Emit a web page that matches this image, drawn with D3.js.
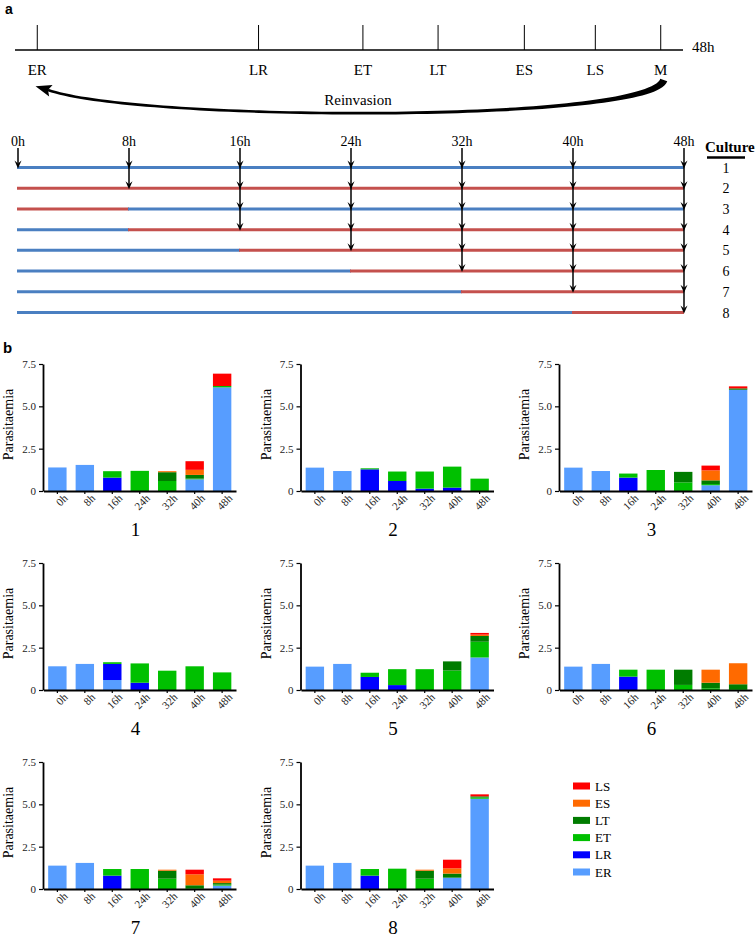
<!DOCTYPE html>
<html><head><meta charset="utf-8">
<script src="https://cdn.jsdelivr.net/npm/d3@7"></script>
<style>body{margin:0;background:#fff} svg{display:block}</style>
</head><body>
<svg id="c" width="755" height="937"></svg>
<script>
// ---------- DATA ----------
const stageNames = ["ER","LR","ET","LT","ES","LS","M"];
const stageHours = [1.6, 17.5, 25.0, 30.4, 36.6, 41.7, 46.4];   // position on the 48h cycle
const times = ["0h","8h","16h","24h","32h","40h","48h"];
const sampleHours = [0, 8, 16, 24, 32, 40, 48];
const cultures = ["1","2","3","4","5","6","7","8"];
const firstSample = [0, 8, 16, 16, 24, 32, 40, 48];
const firstMedium = ["blue","red","red","blue","blue","blue","blue","blue"];
const switchHour  = [48, 48, 8, 8, 16, 24, 32, 40];
const stages = ["ER","LR","ET","LT","ES","LS"];
const yTicks = [0, 2.5, 5, 7.5];

// stage values: one row per culture, one value per sampling time
const ER = [
  [1.39,1.54,0,0,0,0.69,6.12],
  [1.38,1.18,0,0,0,0,0],
  [1.38,1.18,0,0,0,0.34,5.98],
  [1.40,1.54,0.59,0,0,0,0],
  [1.38,1.54,0,0,0,0,1.92],
  [1.38,1.54,0,0,0,0,0],
  [1.38,1.54,0,0,0,0,0.20],
  [1.38,1.54,0,0,0,0.67,5.33]];
const LR = [
  [0,0,0.79,0,0,0,0],
  [0,0,1.28,0.59,0.14,0.20,0],
  [0,0,0.79,0,0,0,0],
  [0,0,0.95,0.43,0,0,0],
  [0,0,0.77,0.29,0,0,0],
  [0,0,0.79,0,0,0,0],
  [0,0,0.79,0,0,0,0],
  [0,0,0.79,0,0,0,0]];
const ET = [
  [0,0,0.38,1.19,0.59,0.04,0.08],
  [0,0,0.06,0.56,1.01,1.24,0.73],
  [0,0,0.24,1.24,0.51,0.07,0],
  [0,0,0.10,1.14,1.14,1.40,1.04],
  [0,0,0.25,0.94,1.23,1.15,0.93],
  [0,0,0.41,1.20,0.30,0.10,0.05],
  [0,0,0.39,1.18,0.61,0.04,0.06],
  [0,0,0.39,1.20,0.61,0,0.08]];
const LT = [
  [0,0,0,0,0.52,0.22,0],
  [0,0,0,0,0,0,0],
  [0,0,0,0,0.62,0.22,0.08],
  [0,0,0,0,0,0,0],
  [0,0,0,0,0,0.54,0.34],
  [0,0,0,0,0.90,0.33,0.29],
  [0,0,0,0,0.47,0.18,0.09],
  [0,0,0,0,0.47,0.24,0.06]];
const ES = [
  [0,0,0,0,0.06,0.30,0],
  [0,0,0,0,0,0,0],
  [0,0,0,0,0,0.59,0],
  [0,0,0,0,0,0,0],
  [0,0,0,0,0,0,0.08],
  [0,0,0,0,0,0.77,1.24],
  [0,0,0,0,0.06,0.65,0.14],
  [0,0,0,0,0.06,0.31,0]];
const LS = [
  [0,0,0,0,0,0.51,0.73],
  [0,0,0,0,0,0,0],
  [0,0,0,0,0,0.28,0.12],
  [0,0,0,0,0,0,0],
  [0,0,0,0,0,0,0.10],
  [0,0,0,0,0,0,0],
  [0,0,0,0,0,0.27,0.14],
  [0,0,0,0,0,0.51,0.12]];

// ---------- STYLE ----------
const serif = "'Liberation Serif','Times New Roman',serif";
const sans = "'Liberation Sans',Arial,sans-serif";
const stageColor = {ER:"#579dff", LR:"#0000ff", ET:"#00c000", LT:"#007c00", ES:"#ff6a00", LS:"#ff0000"};
const mediumColor = {blue:"#4a7fc1", red:"#c4504d"};

const svg = d3.select("#c");

// ---------- PANEL a : top timeline ----------
svg.append("text").attr("x",5).attr("y",14).attr("font-family",sans).attr("font-weight","bold")
  .attr("font-size",14).text("a");

const xCycle = d3.scaleLinear().domain([0,48]).range([15,683]);
const gTop = svg.append("g");
gTop.append("line").attr("x1",xCycle(0)).attr("x2",xCycle(48)).attr("y1",50).attr("y2",50)
  .attr("stroke","#000").attr("stroke-width",1.3);
gTop.selectAll("line.tk").data(stageHours).join("line").attr("class","tk")
  .attr("x1",d=>xCycle(d)).attr("x2",d=>xCycle(d)).attr("y1",25).attr("y2",50)
  .attr("stroke","#000").attr("stroke-width",1);
gTop.selectAll("text.st").data(stageNames).join("text").attr("class","st")
  .attr("x",(d,i)=>xCycle(stageHours[i])).attr("y",75).attr("text-anchor","middle")
  .attr("font-family",serif).attr("font-size",15).text(d=>d);
gTop.append("text").attr("x",692).attr("y",52).attr("font-family",serif).attr("font-size",15).text("48h");

// Reinvasion arrow: tapered cubic curve from M back to ER
(function(){
  const P0=[xCycle(stageHours[6])+3,80], P1=[650,123], P2=[140,122], P3=[48,90];
  const pt=t=>{const u=1-t;return [u*u*u*P0[0]+3*u*u*t*P1[0]+3*u*t*t*P2[0]+t*t*t*P3[0],
                                   u*u*u*P0[1]+3*u*u*t*P1[1]+3*u*t*t*P2[1]+t*t*t*P3[1]];};
  const N=80, up=[], dn=[];
  for(let i=0;i<=N;i++){
    const t=i/N, a=pt(Math.max(0,t-0.005)), b=pt(Math.min(1,t+0.005)), p=pt(t);
    let dx=b[0]-a[0], dy=b[1]-a[1]; const L=Math.hypot(dx,dy); dx/=L; dy/=L;
    const w=(2.6+5*Math.pow(1-t,5))/2;
    up.push([p[0]-dy*w,p[1]+dx*w]); dn.push([p[0]+dy*w,p[1]-dx*w]);
  }
  const poly=up.concat(dn.reverse());
  gTop.append("path").attr("d","M"+poly.map(p=>p.join(",")).join("L")+"Z").attr("fill","#000");
  // arrow head
  const a=pt(0.97); let dx=P3[0]-a[0], dy=P3[1]-a[1]; const L=Math.hypot(dx,dy); dx/=L; dy/=L;
  const tip=[P3[0]+dx*13,P3[1]+dy*13], c1=[P3[0]-dx*3-dy*6,P3[1]-dy*3+dx*6], c2=[P3[0]-dx*3+dy*6,P3[1]-dy*3-dx*6];
  gTop.append("path").attr("d",`M${tip}L${c1}L${P3}L${c2}Z`).attr("fill","#000");
  gTop.append("text").attr("x",358).attr("y",105).attr("text-anchor","middle")
    .attr("font-family",serif).attr("font-size",15).text("Reinvasion");
})();

// ---------- PANEL a : culture schedule ----------
const xT = d3.scaleLinear().domain([0,48]).range([18,684]);
const yC = d3.scalePoint().domain(cultures).range([167.5,312.5]);
const gS = svg.append("g");
cultures.forEach((c,i)=>{
  const segs = [[0,switchHour[i],firstMedium[i]],[switchHour[i],48,firstMedium[i]==="blue"?"red":"blue"]];
  segs.filter(s=>s[1]>s[0]).forEach(s=>{
    gS.append("line").attr("x1",xT(s[0])-1).attr("x2",xT(s[1])).attr("y1",yC(c)).attr("y2",yC(c))
      .attr("stroke",mediumColor[s[2]]).attr("stroke-width",3);
  });
  gS.append("text").attr("x",726).attr("y",yC(c)+5).attr("text-anchor","middle")
    .attr("font-family",serif).attr("font-size",14).text(c);
});
gS.append("text").attr("x",705).attr("y",152).attr("font-family",serif).attr("font-weight","bold")
  .attr("font-size",15).text("Culture");
gS.append("line").attr("x1",707).attr("x2",745).attr("y1",157.5).attr("y2",157.5).attr("stroke","#000").attr("stroke-width",2.5);
sampleHours.forEach((h,j)=>{
  const x=xT(h);
  gS.append("text").attr("x",x).attr("y",146).attr("text-anchor","middle")
    .attr("font-family",serif).attr("font-size",14).text(times[j]);
  const hit=cultures.filter((c,i)=>firstSample[i]<=h);
  const last=hit[hit.length-1];
  gS.append("line").attr("x1",x).attr("x2",x).attr("y1",148).attr("y2",yC(last)-4)
    .attr("stroke","#000").attr("stroke-width",1.5);
  hit.forEach(c=>{
    const yy=yC(c)+1;
    gS.append("path").attr("d",`M${x-3.5},${yy-8}L${x},${yy}L${x+3.5},${yy-8}L${x},${yy-5}Z`).attr("fill","#000");
  });
});

// ---------- PANEL b : stacked bars ----------
svg.append("text").attr("x",3).attr("y",353).attr("font-family",sans).attr("font-weight","bold")
  .attr("font-size",15).text("b");

const colX=[43,300.5,559], rowY=[491,690,889], H=127, W=193;
const stageData={ER,LR,ET,LT,ES,LS};

cultures.forEach((c,ci)=>{
  const x0=colX[ci%3], y0=rowY[Math.floor(ci/3)];
  const g=svg.append("g");
  const x=d3.scaleBand().domain(times).range([x0+0.5,x0+W]).paddingInner(0.33).paddingOuter(0.17);
  const y=d3.scaleLinear().domain([0,7.5]).range([y0,y0-H]);
  const rows=times.map((t,j)=>{const r={time:t}; stages.forEach(s=>r[s]=stageData[s][ci][j]); return r;});
  const series=d3.stack().keys(stages)(rows);
  g.selectAll("g.s").data(series).join("g").attr("class","s").attr("fill",d=>stageColor[d.key])
    .selectAll("rect").data(d=>d).join("rect")
    .attr("x",d=>x(d.data.time)).attr("width",x.bandwidth())
    .attr("y",d=>y(d[1])).attr("height",d=>Math.max(0,y(d[0])-y(d[1])));

  const ya=g.append("g").attr("transform",`translate(${x0},0)`)
    .call(d3.axisLeft(y).tickValues(yTicks).tickSize(4).tickSizeOuter(0).tickPadding(3)
      .tickFormat(d=>d===0?"0":d3.format(".1f")(d)));
  ya.select(".domain").attr("stroke-width",1.8);
  ya.selectAll(".tick line").attr("stroke-width",1.2);
  ya.selectAll("text").attr("font-family",serif).attr("font-size",11).attr("fill","#222");

  const xa=g.append("g").attr("transform",`translate(0,${y0})`)
    .call(d3.axisBottom(x).tickSize(3).tickSizeOuter(0));
  xa.select(".domain").attr("stroke-width",1.8);
  xa.selectAll(".tick line").attr("stroke-width",1.2);
  xa.selectAll("text").attr("font-family",serif).attr("font-size",11).attr("fill","#222")
    .attr("text-anchor","end").attr("dy","0.35em")
    .attr("transform","translate(4,1) rotate(-45)").attr("y",6).attr("x",0);

  g.append("text").attr("transform",`translate(${x0-30},${y0-H/2-3}) rotate(-90)`)
    .attr("text-anchor","middle").attr("font-family",serif).attr("font-size",14).text("Parasitaemia");
  g.append("text").attr("x",x0+W/2-4).attr("y",y0+45).attr("text-anchor","middle")
    .attr("font-family",serif).attr("font-size",19).text(c);
});

// legend
const lg=svg.append("g");
stages.slice().reverse().forEach((s,i)=>{
  const yy=786+i*17.2;
  lg.append("rect").attr("x",573).attr("y",yy-3.5).attr("width",17).attr("height",7).attr("fill",stageColor[s]);
  lg.append("text").attr("x",595).attr("y",yy+4.5).attr("font-family",serif).attr("font-size",13).text(s);
});
</script></body></html>
